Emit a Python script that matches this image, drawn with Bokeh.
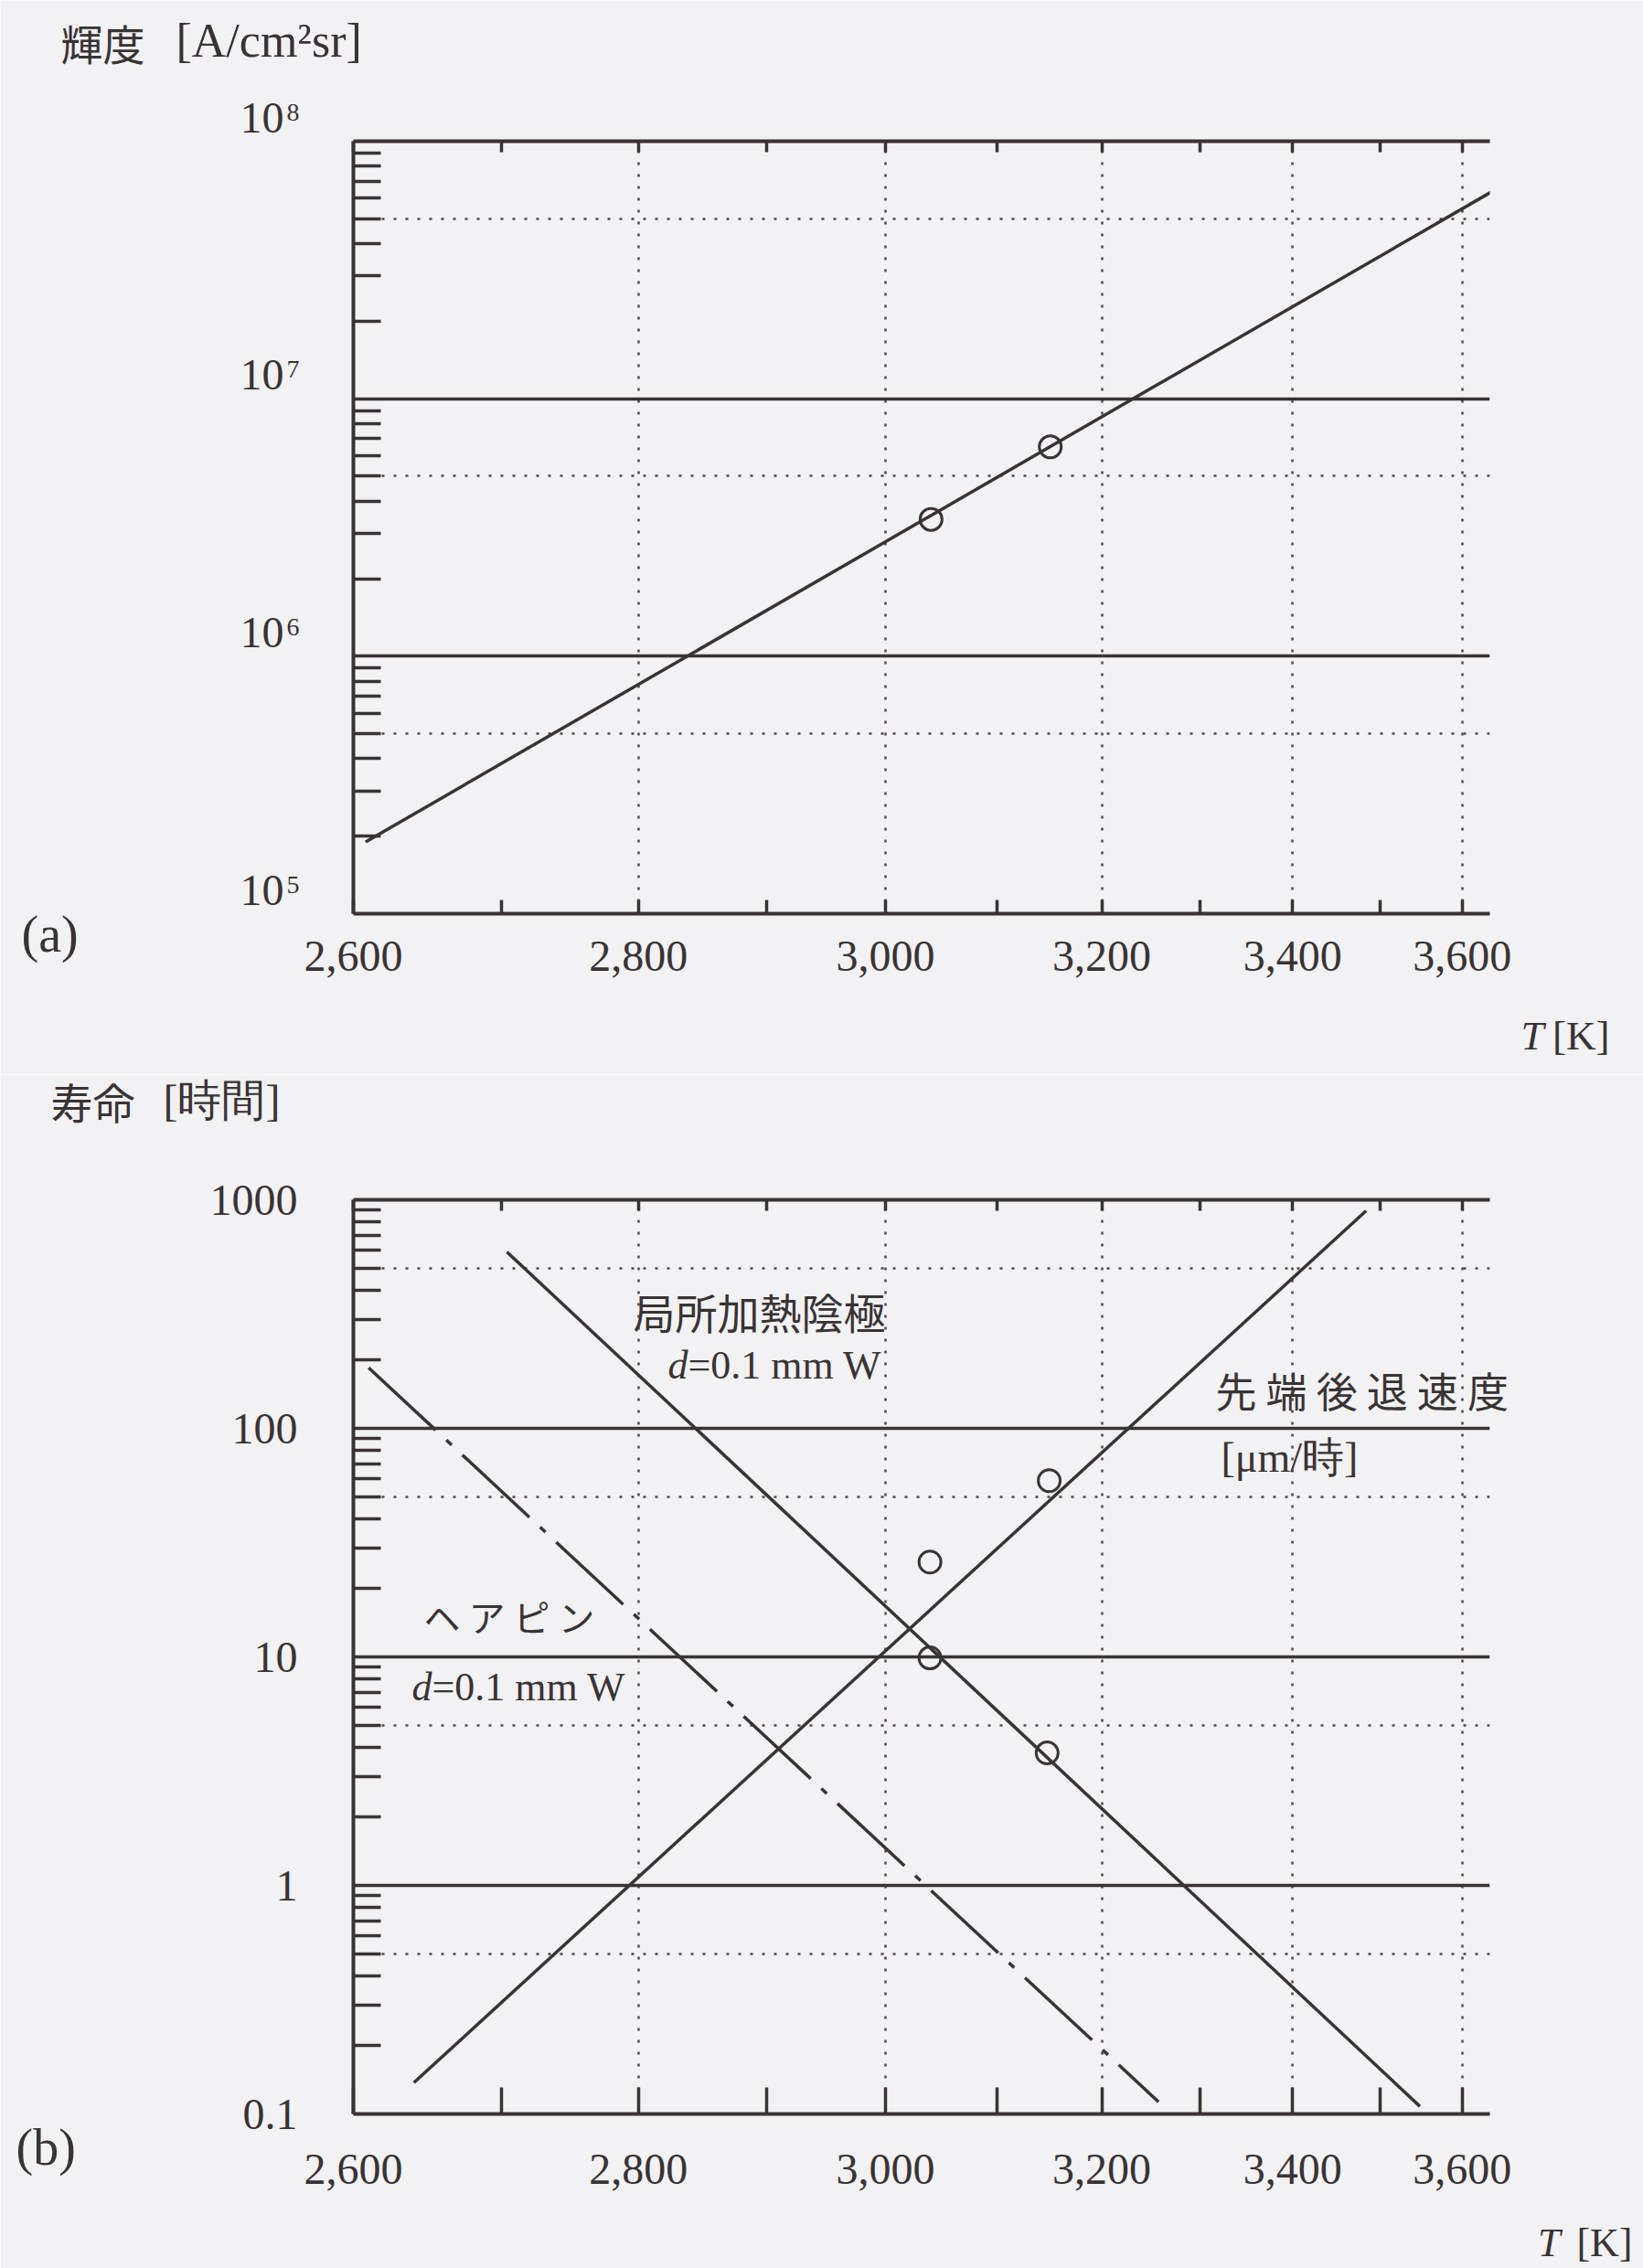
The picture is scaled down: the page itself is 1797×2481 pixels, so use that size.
import math

from bokeh.plotting import figure
from bokeh.layouts import column
from bokeh.models import (Range1d, LinearAxis, FixedTicker, Grid, GridBox,
                          CustomJSTickFormatter, Label)
from bokeh.embed import file_html
from bokeh.resources import INLINE

PAGE = "#f2f1f3"
INK = "#393333"
DOT = "#4e4848"
SERIF = "Liberation Serif"
CJK = "Noto Sans CJK JP"
PAGE_W, PAGE_H = 1797, 2481

# ---------------- temperature axis (drawn on a 1/T scale) ----------------
T_START, T_END = 2600, 3635
T_TICKS = [2600, 2700, 2800, 2900, 3000, 3100, 3200, 3300, 3400, 3500, 3600]
T_TICK_TEXT = ["2,600", "", "2,800", "", "3,000", "", "3,200", "", "3,400", "", "3,600"]
T_GRID = [2800, 3000, 3200, 3400, 3600]

# ---------------- (a) brightness ----------------
a_decades = [1e5, 1e6, 1e7, 1e8]
a_exponents = ["5", "6", "7", "8"]
a_line_T = [2608, 3650]
a_line_B = [1.9e5, 6.7e7]
a_meas_T = [3040, 3150]
a_meas_B = [3.4e6, 6.5e6]

# ---------------- (b) lifetime / tip recession ----------------
b_decades = [0.1, 1, 10, 100, 1000]
b_tick_text = ["0.1", "1", "10", "100", "1000"]
recess_T = [2640, 3484]
recess_v = [0.137, 895]
local_T = [2704, 3548]
local_h = [592, 0.108]
hairpin_T = [2610, 3257]
hairpin_h = [184, 0.113]
recess_meas_T = [3039, 3149]
recess_meas_v = [26, 59]
life_meas_T = [3039, 3147]
life_meas_h = [9.9, 3.8]


def inv(T):
    return 1000.0 / T


# page geometry of each panel (pixels on the page)
GA = dict(top=0, h=1175, L=386, R=1629, FT=154, FB=999, lo=1e5, hi=1e8)
GB = dict(top=1175, h=1306, L=377, R=1631, FT=1312, FB=2312, lo=0.1, hi=1000)


def page_y(g, v):
    """Page row of value v on the log axis of panel g."""
    lo, hi = math.log10(g["lo"]), math.log10(g["hi"])
    return g["FT"] + (hi - math.log10(v)) / (hi - lo) * (g["FB"] - g["FT"])


x_fmt = CustomJSTickFormatter(
    args=dict(tvals=T_TICKS, tlabels=T_TICK_TEXT),
    code="""
        const T = 1000 / tick;
        for (let i = 0; i < tvals.length; i++) {
            if (Math.abs(tvals[i] - T) < 0.5) return tlabels[i];
        }
        return '';
    """)
blank_fmt = CustomJSTickFormatter(code="return '';")


def make_panel(g, bottom_tick, label_standoff):
    p = figure(width=PAGE_W, height=g["h"],
               x_range=Range1d(inv(T_START), inv(T_END)),
               y_range=Range1d(g["lo"], g["hi"]), y_axis_type="log",
               output_backend="svg", toolbar_location=None,
               min_border_left=g["L"], min_border_right=PAGE_W - g["R"],
               min_border_top=g["FT"] - g["top"],
               min_border_bottom=g["top"] + g["h"] - g["FB"],
               background_fill_color=PAGE, border_fill_color=PAGE,
               outline_line_color=None)
    p.xgrid.visible = False
    p.ygrid.visible = False

    x_ticker = FixedTicker(ticks=[inv(t) for t in T_TICKS])

    xa = p.xaxis[0]
    xa.ticker = x_ticker
    xa.formatter = x_fmt
    xa.major_tick_in = bottom_tick
    xa.major_tick_out = 0
    xa.minor_tick_in = 0
    xa.minor_tick_out = 0
    xa.axis_line_width = 4
    xa.axis_line_color = INK
    xa.major_tick_line_width = 3.5
    xa.major_tick_line_color = INK
    xa.major_label_standoff = label_standoff
    xa.major_label_text_font = SERIF
    xa.major_label_text_font_size = "48px"
    xa.major_label_text_color = INK

    top = LinearAxis(ticker=x_ticker, formatter=blank_fmt,
                     major_tick_in=12, major_tick_out=0,
                     minor_tick_in=0, minor_tick_out=0,
                     axis_line_width=4, axis_line_color=INK,
                     major_tick_line_width=3.5, major_tick_line_color=INK,
                     major_label_standoff=0, major_label_text_font_size="1px")
    p.add_layout(top, "above")

    e_lo = int(round(math.log10(g["lo"])))
    e_hi = int(round(math.log10(g["hi"])))
    decades = [10.0 ** e for e in range(e_lo, e_hi + 1)]
    minors = [m * 10.0 ** e for e in range(e_lo, e_hi) for m in range(2, 10)]
    halves = [5 * 10.0 ** e for e in range(e_lo, e_hi)]

    ya = p.yaxis[0]
    ya.ticker = FixedTicker(ticks=decades, minor_ticks=minors)
    ya.major_tick_in = 0
    ya.major_tick_out = 0
    ya.minor_tick_in = 30
    ya.minor_tick_out = 0
    ya.minor_tick_line_width = 3.5
    ya.minor_tick_line_color = INK
    ya.axis_line_width = 4
    ya.axis_line_color = INK
    ya.major_label_text_font = SERIF
    ya.major_label_text_font_size = "48px"
    ya.major_label_text_color = INK

    # dotted verticals every 200 K, solid decade lines, dotted 5x lines
    p.add_layout(Grid(dimension=0, ticker=FixedTicker(ticks=[inv(t) for t in T_GRID]),
                      grid_line_color=DOT, grid_line_width=2.5, grid_line_dash="3 10"))
    p.add_layout(Grid(dimension=1, ticker=FixedTicker(ticks=decades[1:-1]),
                      grid_line_color=INK, grid_line_width=3.5))
    p.add_layout(Grid(dimension=1, ticker=FixedTicker(ticks=halves),
                      grid_line_color=DOT, grid_line_width=2.5, grid_line_dash="3 10"))
    return p


# ---------------- panel (a) ----------------
pa = make_panel(GA, 15, 30)
pa.yaxis[0].formatter = blank_fmt
pa.yaxis[0].major_label_standoff = 0

pa.line([inv(t) for t in a_line_T], a_line_B, line_color=INK, line_width=3.5)
pa.scatter([inv(t) for t in a_meas_T], a_meas_B, marker="circle", size=24,
           fill_color=None, line_color=INK, line_width=3)

# ---------------- panel (b) ----------------
pb = make_panel(GB, 29, 44)
pb.yaxis[0].formatter = CustomJSTickFormatter(
    args=dict(dvals=b_decades, dlabels=b_tick_text),
    code="""
        for (let i = 0; i < dvals.length; i++) {
            if (Math.abs(Math.log10(dvals[i]) - Math.log10(tick)) < 1e-6) return dlabels[i];
        }
        return '';
    """)
pb.yaxis[0].major_label_standoff = 61

pb.line([inv(t) for t in recess_T], recess_v, line_color=INK, line_width=3.5)
pb.line([inv(t) for t in local_T], local_h, line_color=INK, line_width=3.5)
pb.line([inv(t) for t in hairpin_T], hairpin_h, line_color=INK, line_width=3.5,
        line_dash="100 16 8 16")
pb.scatter([inv(t) for t in recess_meas_T], recess_meas_v, marker="circle", size=24,
           fill_color=None, line_color=INK, line_width=3)
pb.scatter([inv(t) for t in life_meas_T], life_meas_h, marker="circle", size=24,
           fill_color=None, line_color=INK, line_width=3)

# ---------------- transparent text layer over the whole page ----------------
ov = figure(width=PAGE_W, height=PAGE_H, x_range=Range1d(0, PAGE_W),
            y_range=Range1d(PAGE_H, 0), output_backend="svg", toolbar_location=None,
            x_axis_location=None, y_axis_location=None, min_border=0,
            background_fill_alpha=0, border_fill_alpha=0, outline_line_color=None)
ov.xgrid.visible = False
ov.ygrid.visible = False


def add_text(px, base, text, font, size, align="left", style="normal"):
    """Place text so that its baseline sits on page row `base`."""
    ov.add_layout(Label(x=px, y=base - 0.35 * size, text=text, text_font=font,
                        text_font_size=f"{size}px", text_font_style=style,
                        text_color=INK, text_align=align, text_baseline="middle"))


# decade labels 10^n of panel (a), set just above their lines
for dec, ex in zip(a_decades, a_exponents):
    yl = page_y(GA, dec)
    add_text(310, yl - 9, "10", SERIF, 48, align="right")
    add_text(313, yl - 22, ex, SERIF, 28)

add_text(66, 62, "輝度", CJK, 46)
add_text(192, 62, "[A/cm²sr]", SERIF, 52)
add_text(23, 1041, "(a)", SERIF, 56)
add_text(1688, 1148, "T", SERIF, 45, align="right", style="italic")
add_text(1760, 1148, "[K]", SERIF, 45, align="right")

add_text(55, 1220, "寿命", CJK, 46)
add_text(178, 1220, "[時間]", SERIF, 48)
add_text(17, 2368, "(b)", SERIF, 56)
add_text(1706, 2468, "T", SERIF, 44, align="right", style="italic")
add_text(1785, 2468, "[K]", SERIF, 44, align="right")

add_text(692, 1450, "局所加熱陰極", CJK, 46)
add_text(730, 1508, "d", SERIF, 44, style="italic")
add_text(752, 1508, "=0.1 mm W", SERIF, 44)
add_text(463, 1781, "ヘ ア ピ ン", CJK, 40)
add_text(450, 1860, "d", SERIF, 44, style="italic")
add_text(472, 1860, "=0.1 mm W", SERIF, 44)
add_text(1329, 1536, "先 端 後 退 速 度", CJK, 45)
add_text(1335, 1610, "[μm/時]", SERIF, 46)

charts = column(pa, pb, spacing=0)
page = GridBox(children=[(charts, 0, 0), (ov, 0, 0)])
with open("out.html", "w", encoding="utf-8") as f:
    f.write(file_html(page, INLINE))
